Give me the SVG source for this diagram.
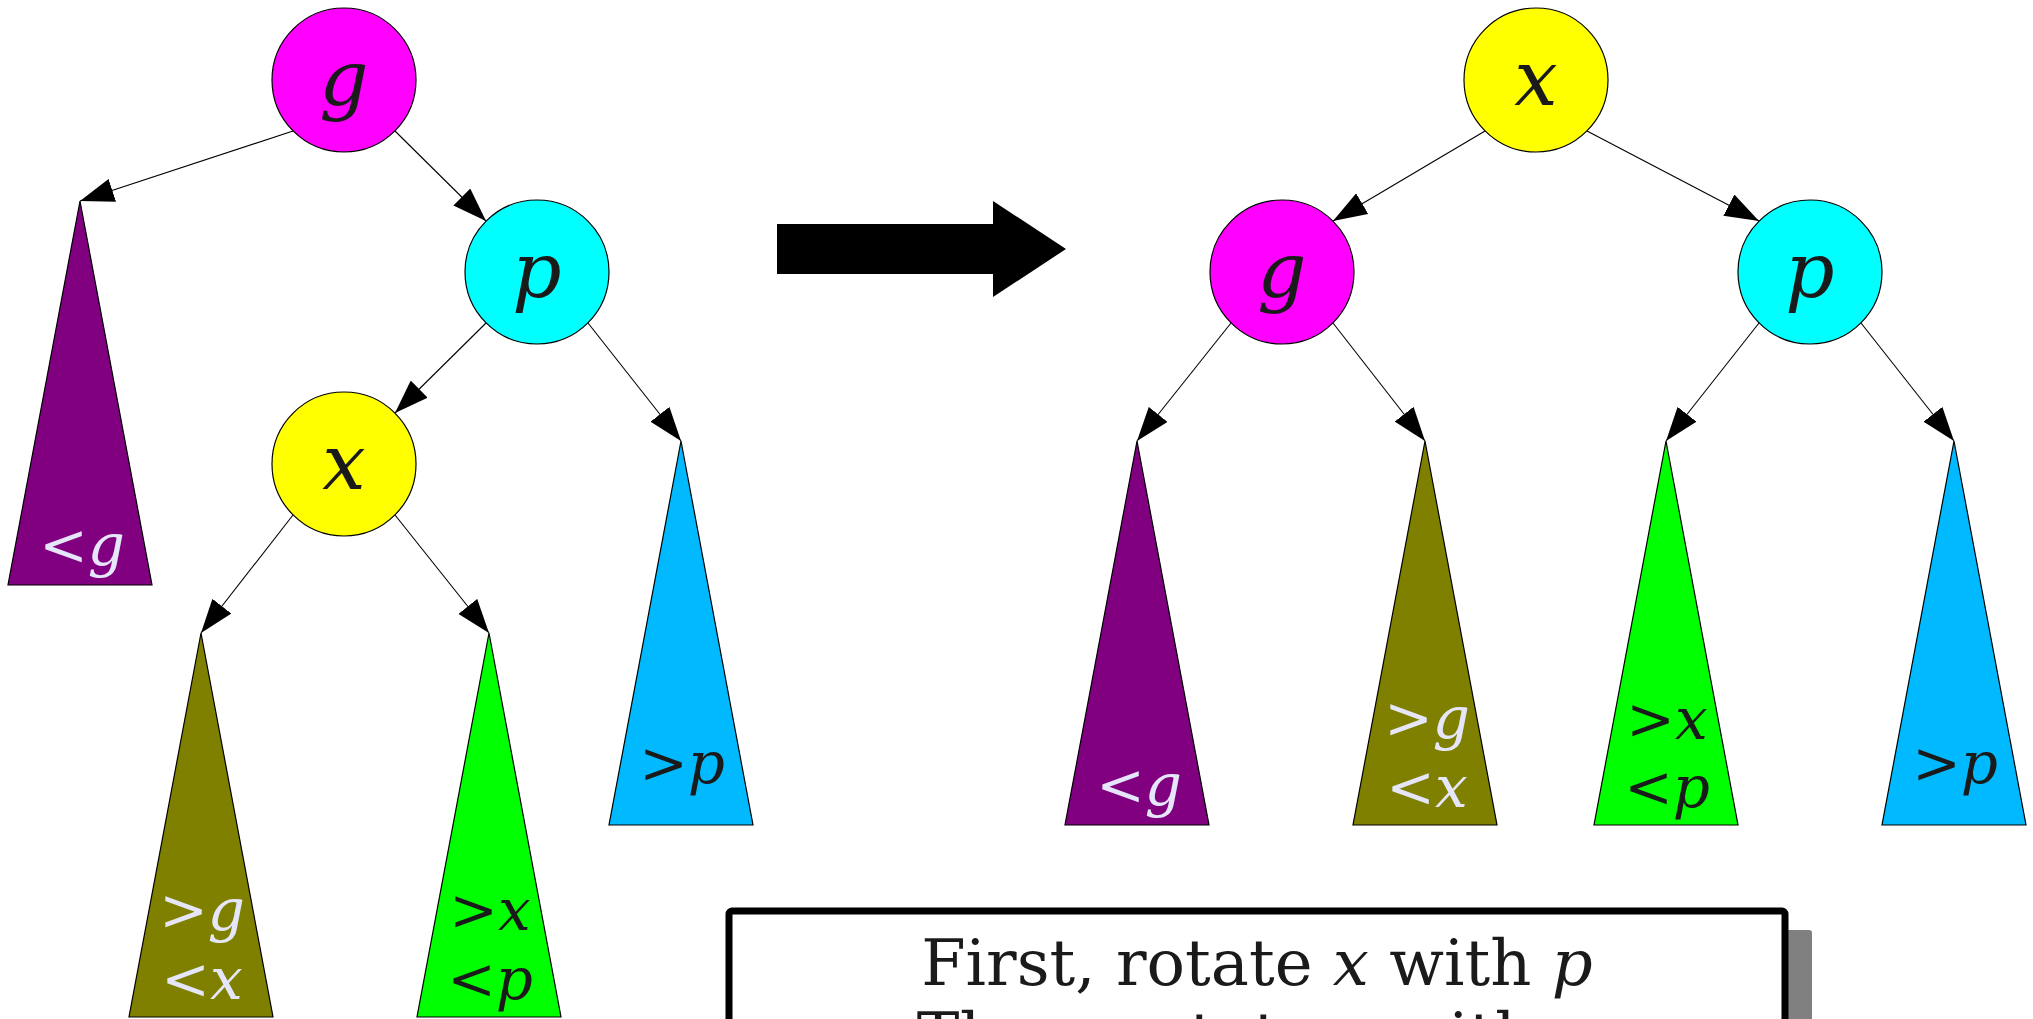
<svg xmlns="http://www.w3.org/2000/svg" width="2033" height="1019" viewBox="0 0 2033 1019">
<style>
.node{stroke:#000;stroke-width:1.2}
.tri{stroke:#000;stroke-width:1.2}
.lbl{font-family:"DejaVu Serif","Liberation Serif",serif;font-style:italic;font-size:77px;fill:#1a1a1a;text-anchor:middle}
.tl{font-family:"DejaVu Serif","Liberation Serif",serif;font-size:58px;text-anchor:middle}
.dark{fill:#1a1a1a}
.light{fill:#e6e6fa}
.it{font-style:italic}
.edge{stroke:#000;stroke-width:1.1;fill:none;marker-end:url(#ah)}
.cap{font-family:"DejaVu Serif","Liberation Serif",serif;font-size:64px;fill:#1a1a1a;text-anchor:middle}
</style>
<defs>
<marker id="ah" markerUnits="userSpaceOnUse" viewBox="0 0 34 24" markerWidth="34" markerHeight="24" refX="34" refY="12" orient="auto">
<path d="M0,0 L34,12 L0,24 z" fill="#000"/>
</marker>
</defs>
<rect width="2033" height="1019" fill="#fff"/>

<g id="connectors">
<line class="edge" x1="293" y1="131" x2="80" y2="201"/>
<line class="edge" x1="395" y1="131" x2="486" y2="221"/>
<line class="edge" x1="486" y1="323" x2="395" y2="413"/>
<line class="edge" x1="588" y1="323" x2="681" y2="441"/>
<line class="edge" x1="293" y1="515" x2="201" y2="633"/>
<line class="edge" x1="395" y1="515" x2="489" y2="633"/>
<line class="edge" x1="1485" y1="131" x2="1333" y2="221"/>
<line class="edge" x1="1587" y1="131" x2="1759" y2="221"/>
<line class="edge" x1="1231" y1="323" x2="1137" y2="441"/>
<line class="edge" x1="1333" y1="323" x2="1425" y2="441"/>
<line class="edge" x1="1759" y1="323" x2="1666" y2="441"/>
<line class="edge" x1="1861" y1="323" x2="1954" y2="441"/>
</g>

<!-- Left tree -->
<g id="L-g"><circle class="node" cx="344" cy="80" r="72" fill="#ff00ff"/><text class="lbl" x="344" y="105">g</text></g>
<g id="L-p"><circle class="node" cx="537" cy="272" r="72" fill="#00ffff"/><text class="lbl" x="537" y="297">p</text></g>
<g id="L-x"><circle class="node" cx="344" cy="464" r="72" fill="#ffff00"/><text class="lbl" x="344" y="489">x</text></g>
<g id="L-lt-g"><polygon class="tri" points="80,201 152,585 8,585" fill="#800080"/><text class="tl light" x="82" y="565">&lt;<tspan class="it">g</tspan></text></g>
<g id="L-gt-p"><polygon class="tri" points="681,441 753,825 609,825" fill="#00b9ff"/><text class="tl dark" x="682" y="783">&gt;<tspan class="it">p</tspan></text></g>
<g id="L-gx"><polygon class="tri" points="201,633 273,1017 129,1017" fill="#808000"/><text class="tl light" x="202" y="930">&gt;<tspan class="it">g</tspan></text><text class="tl light" x="202" y="999">&lt;<tspan class="it">x</tspan></text></g>
<g id="L-xp"><polygon class="tri" points="489,633 561,1017 417,1017" fill="#00ff00"/><text class="tl dark" x="490" y="930">&gt;<tspan class="it">x</tspan></text><text class="tl dark" x="490" y="999">&lt;<tspan class="it">p</tspan></text></g>

<!-- Big arrow -->
<g id="big-arrow"><polygon points="777,224 993,224 993,201 1066,249 993,297 993,274 777,274" fill="#000"/></g>

<!-- Right tree -->
<g id="R-x"><circle class="node" cx="1536" cy="80" r="72" fill="#ffff00"/><text class="lbl" x="1536" y="105">x</text></g>
<g id="R-g"><circle class="node" cx="1282" cy="272" r="72" fill="#ff00ff"/><text class="lbl" x="1282" y="297">g</text></g>
<g id="R-p"><circle class="node" cx="1810" cy="272" r="72" fill="#00ffff"/><text class="lbl" x="1810" y="297">p</text></g>
<g id="R-lt-g"><polygon class="tri" points="1137,441 1209,825 1065,825" fill="#800080"/><text class="tl light" x="1139" y="805">&lt;<tspan class="it">g</tspan></text></g>
<g id="R-gx"><polygon class="tri" points="1425,441 1497,825 1353,825" fill="#808000"/><text class="tl light" x="1427" y="738">&gt;<tspan class="it">g</tspan></text><text class="tl light" x="1427" y="807">&lt;<tspan class="it">x</tspan></text></g>
<g id="R-xp"><polygon class="tri" points="1666,441 1738,825 1594,825" fill="#00ff00"/><text class="tl dark" x="1667" y="739">&gt;<tspan class="it">x</tspan></text><text class="tl dark" x="1667" y="807">&lt;<tspan class="it">p</tspan></text></g>
<g id="R-gt-p"><polygon class="tri" points="1954,441 2026,825 1882,825" fill="#00b9ff"/><text class="tl dark" x="1955" y="783">&gt;<tspan class="it">p</tspan></text></g>

<!-- Caption box -->
<g id="caption">
<rect x="753" y="930" width="1059" height="200" rx="3" fill="#808080"/>
<rect x="729" y="911" width="1056" height="200" rx="3" fill="#fff" stroke="#000" stroke-width="7"/>
<text class="cap" x="1257" y="985">First, rotate <tspan class="it">x</tspan> with <tspan class="it">p</tspan></text>
<text class="cap" x="1257" y="1058">Then, rotate <tspan class="it">x</tspan> with <tspan class="it">g</tspan></text>
</g>
</svg>
